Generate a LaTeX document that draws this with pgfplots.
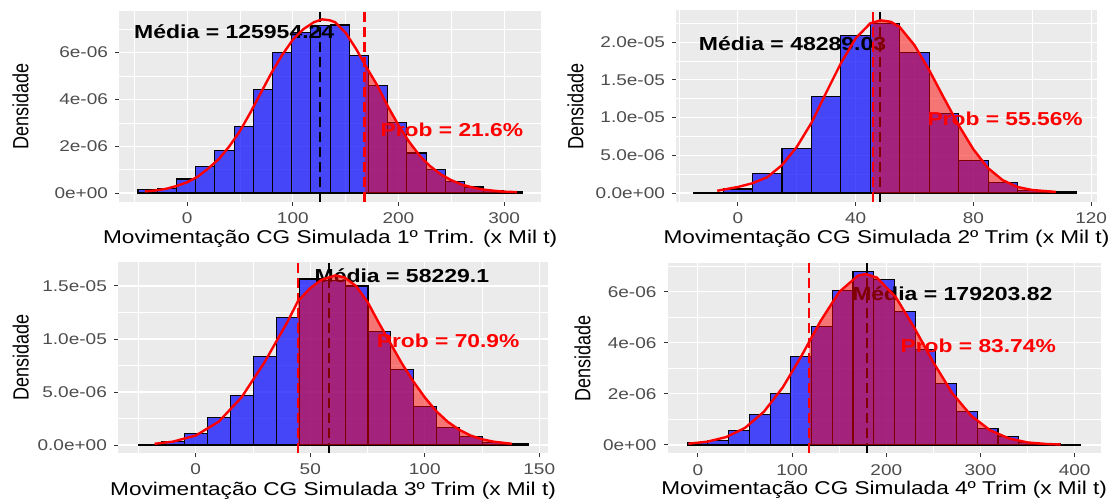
\documentclass[border=0pt]{standalone}
\usepackage{fontspec}
\setmainfont{Liberation Sans}
\usepackage{graphicx}
\usepackage{pgfplots}
\pgfplotsset{compat=1.18}
\definecolor{ggbg}{HTML}{EBEBEB}
\definecolor{ggtxt}{HTML}{4D4D4D}
\definecolor{ggtick}{HTML}{333333}
% ggplot output is squashed vertically, so squash the text too
\newcommand{\sq}[1]{\scalebox{1}[0.82]{#1}}
\pgfplotsset{
  gg/.style={
    scale only axis, anchor=south west,
    axis background/.style={fill=ggbg},
    axis line style={draw=none},
    grid=both,
    major grid style={white, line width=0.55pt},
    minor grid style={white, line width=0.3pt},
    tick align=outside, tick pos=left,
    major tick length=2pt, minor tick length=0pt,
    tick style={ggtick, line width=0.5pt},
    ticklabel style={font=\fontsize{9.5}{11}\selectfont, text=ggtxt},
    xlabel style={font=\fontsize{11.3}{13}\selectfont, anchor=base},
    ylabel style={font=\fontsize{11}{13}\selectfont, anchor=center},
  },
  hist/.style={ybar, bar shift=0pt, fill=blue, fill opacity=0.7, draw=black, line width=0.55pt},
  area/.style={fill=red, fill opacity=0.5, draw=none, mark=none},
  dens/.style={red, line width=1.2pt, mark=none},
  vl/.style={line width=1.1pt, dash pattern=on 5pt off 2.5pt, mark=none},
}
\tikzset{
  media/.style={font=\bfseries\fontsize{11.5}{13}\selectfont, text=black},
  prob/.style={font=\bfseries\fontsize{11.4}{13}\selectfont, text=red},
}
\begin{document}
\begin{tikzpicture}
\useasboundingbox (0,0) rectangle (554.5pt,249.5pt);

% ---------- 1st quarter
\begin{axis}[gg, at={(59.5pt,148.65pt)}, width=211.2pt, height=95.5pt,
  xmin=-64.5, xmax=335.3, ymin=-0.37, ymax=7.79,
  xtick={0,100,200,300}, xticklabels={\sq{0},\sq{100},\sq{200},\sq{300}},
  minor xtick={-50,50,150,250},
  ytick={0,2,4,6}, yticklabels={\sq{0e+00},\sq{2e-06},\sq{4e-06},\sq{6e-06}},
  minor ytick={1,3,5,7},
  xlabel={\sq{Movimentação CG Simulada 1º Trim. (x Mil t)}},
  ylabel={\scalebox{0.82}[1]{Densidade}},
  xlabel style={at={(axis description cs:0.5,-0.218)}},
  ylabel style={at={(axis description cs:-0.233,0.5)}},
]
\addplot[hist, bar width=18.18] coordinates {
(-37.41,0.14)(-19.23,0.18)(-1.05,0.6)(17.13,1.14)(35.31,1.8)(53.49,2.84)(71.67,4.41)
(89.85,6.01)(108.03,6.85)(126.21,7.14)(144.39,7.18)(162.57,5.86)(180.75,4.59)(198.93,3.01)
(217.11,1.71)(235.29,1.0)(253.47,0.5)(271.65,0.26)(289.83,0.11)(308.01,0.08)};
\node[media] at (axis cs:44.6,6.89) {\sq{Média = 125954.24}};
\node[prob] at (axis cs:250.6,2.70) {\sq{Prob = 21.6\%}};
\addplot[vl, black] coordinates {(125.95,-0.37)(125.95,7.79)};
\addplot[vl, red] coordinates {(167.9,-0.37)(167.9,7.79)};
\addplot[area] coordinates {
(167.9,0)(167.9,5.52)(170,5.35)(180,4.6)(190,3.7)(200,2.9)(210,2.2)(220,1.6)(230,1.15)
(240,0.8)(250,0.55)(260,0.36)(270,0.24)(280,0.15)(290,0.1)(300,0.06)(312,0.04)(312,0)};
\addplot[dens] coordinates {
(-40,0.07)(-30,0.11)(-20,0.18)(-10,0.3)(0,0.46)(10,0.7)(20,1.05)(30,1.45)(40,2.0)
(50,2.65)(60,3.45)(70,4.3)(80,5.15)(90,5.9)(100,6.55)(110,7.0)(120,7.3)(128,7.42)
(135,7.38)(140,7.3)(150,6.85)(160,6.15)(167.9,5.52)(170,5.35)(180,4.6)(190,3.7)(200,2.9)
(210,2.2)(220,1.6)(230,1.15)(240,0.8)(250,0.55)(260,0.36)(270,0.24)(280,0.15)(290,0.1)
(300,0.06)(312,0.04)};
\end{axis}

% ---------- 2nd quarter
\begin{axis}[gg, at={(338pt,148.65pt)}, width=210.5pt, height=95.6pt,
  xmin=-21, xmax=122, ymin=-1.15, ymax=24.2,
  xtick={0,40,80,120}, xticklabels={\sq{0},\sq{40},\sq{80},\sq{120}},
  minor xtick={-20,20,60,100},
  ytick={0,5,10,15,20},
  yticklabels={\sq{0.0e+00},\sq{5.0e-06},\sq{1.0e-05},\sq{1.5e-05},\sq{2.0e-05}},
  minor ytick={2.5,7.5,12.5,17.5,22.5},
  xlabel={\sq{Movimentação CG Simulada 2º Trim (x Mil t)}},
  ylabel={\scalebox{0.82}[1]{Densidade}},
  xlabel style={at={(axis description cs:0.5,-0.218)}},
  ylabel style={at={(axis description cs:-0.239,0.5)}},
]
\addplot[hist, bar width=10] coordinates {
(-10,0.1)(0,0.53)(10,2.64)(20,5.85)(30,12.8)(40,20.9)(50,22.5)(60,18.6)(70,10.55)
(80,4.26)(90,1.4)(100,0.35)(110,0.13)};
\node[media] at (axis cs:18.6,19.8) {\sq{Média = 48289.03}};
\node[prob] at (axis cs:90.8,9.9) {\sq{Prob = 55.56\%}};
\addplot[vl, black] coordinates {(48.29,-1.15)(48.29,24.2)};
\addplot[vl, red] coordinates {(45.8,-1.15)(45.8,24.2)};
\addplot[area] coordinates {
(45.8,0)(45.8,22.6)(48.5,22.9)(52,22.7)(55,22.0)(60,19.6)(65,16.3)(70,12.6)(75,9.0)
(80,5.8)(85,3.3)(90,1.7)(95,0.8)(100,0.4)(108,0.15)(108,0)};
\addplot[dens] coordinates {
(-7,0.3)(0,0.8)(5,1.3)(10,2.1)(15,3.7)(20,6.1)(25,9.3)(30,13.3)(35,17.2)(40,20.5)
(45,22.5)(48.5,22.9)(52,22.7)(55,22.0)(60,19.6)(65,16.3)(70,12.6)(75,9.0)(80,5.8)
(85,3.3)(90,1.7)(95,0.8)(100,0.4)(108,0.15)};
\end{axis}

% ---------- 3rd quarter
\begin{axis}[gg, at={(58.95pt,23pt)}, width=215.15pt, height=95.65pt,
  xmin=-34, xmax=153.9, ymin=-0.75, ymax=17.29,
  xtick={0,50,100,150}, xticklabels={\sq{0},\sq{50},\sq{100},\sq{150}},
  minor xtick={-25,25,75,125},
  ytick={0,5,10,15},
  yticklabels={\sq{0.0e+00},\sq{5.0e-06},\sq{1.0e-05},\sq{1.5e-05}},
  minor ytick={2.5,7.5,12.5},
  xlabel={\sq{Movimentação CG Simulada 3º Trim (x Mil t)}},
  ylabel={\scalebox{0.82}[1]{Densidade}},
  xlabel style={at={(axis description cs:0.5,-0.22)}},
  ylabel style={at={(axis description cs:-0.226,0.5)}},
]
\addplot[hist, bar width=10] coordinates {
(-19.8,0.05)(-9.8,0.3)(0.2,1.1)(10.2,2.58)(20.2,4.69)(30.2,8.33)(40.2,12.0)(50.2,15.66)
(60.2,15.5)(70.2,15.0)(80.2,10.7)(90.2,7.14)(100.2,3.62)(110.2,1.67)(120.2,0.79)
(130.2,0.25)(140.2,0.12)};
\node[media] at (axis cs:90.0,15.94) {\sq{Média = 58229.1}};
\node[prob] at (axis cs:110.2,9.84) {\sq{Prob = 70.9\%}};
\addplot[vl, black] coordinates {(58.23,-0.75)(58.23,17.29)};
\addplot[vl, red] coordinates {(44.7,-0.75)(44.7,17.29)};
\addplot[area] coordinates {
(44.7,0)(44.7,13.6)(50,14.8)(55,15.6)(61,16.0)(65,15.8)(70,15.0)(75,13.5)(80,11.5)
(85,9.6)(90,7.7)(95,6.0)(100,4.5)(105,3.2)(110,2.2)(115,1.45)(120,0.9)(125,0.55)
(130,0.32)(138,0.12)(138,0)};
\addplot[dens] coordinates {
(-18,0.12)(-10,0.32)(0,0.9)(10,2.2)(20,4.5)(30,7.8)(40,11.6)(44.7,13.6)(50,14.8)
(55,15.6)(61,16.0)(65,15.8)(70,15.0)(75,13.5)(80,11.5)(85,9.6)(90,7.7)(95,6.0)
(100,4.5)(105,3.2)(110,2.2)(115,1.45)(120,0.9)(125,0.55)(130,0.32)(138,0.12)};
\end{axis}

% ---------- 4th quarter
\begin{axis}[gg, at={(333.75pt,22.85pt)}, width=216.6pt, height=95pt,
  xmin=-32.3, xmax=427.6, ymin=-0.325, ymax=7.11,
  xtick={0,100,200,300,400}, xticklabels={\sq{0},\sq{100},\sq{200},\sq{300},\sq{400}},
  minor xtick={50,150,250,350},
  ytick={0,2,4,6}, yticklabels={\sq{0e+00},\sq{2e-06},\sq{4e-06},\sq{6e-06}},
  minor ytick={1,3,5,7},
  xlabel={\sq{Movimentação CG Simulada 4º Trim (x Mil t)}},
  ylabel={\scalebox{0.82}[1]{Densidade}},
  xlabel style={at={(axis description cs:0.5,-0.219)}},
  ylabel style={at={(axis description cs:-0.196,0.5)}},
]
\addplot[hist, bar width=22] coordinates {
(-0.4,0.1)(21.6,0.17)(43.6,0.55)(65.6,1.2)(87.6,2.0)(109.6,3.48)(131.6,4.63)(153.6,6.04)
(175.6,6.78)(197.6,6.48)(219.6,5.24)(241.6,3.72)(263.6,2.41)(285.6,1.3)(307.6,0.65)
(329.6,0.33)(351.6,0.1)(373.6,0.05)(395.6,0.03)};
\node[media] at (axis cs:270.1,5.94) {\sq{Média = 179203.82}};
\node[prob] at (axis cs:297.6,3.87) {\sq{Prob = 83.74\%}};
\addplot[vl, black] coordinates {(179.2,-0.325)(179.2,7.11)};
\addplot[vl, red] coordinates {(118.3,-0.325)(118.3,7.11)};
\addplot[area] coordinates {
(118.3,0)(118.3,4.05)(130,4.84)(150,5.99)(170,6.63)(178,6.69)(190,6.55)(210,5.79)
(230,4.57)(250,3.23)(270,2.03)(290,1.15)(310,0.58)(330,0.26)(350,0.1)(370,0.04)
(385,0.02)(385,0)};
\addplot[dens] coordinates {
(-10,0.05)(10,0.13)(30,0.31)(50,0.67)(70,1.3)(90,2.25)(110,3.49)(118.3,4.05)(130,4.84)
(150,5.99)(170,6.63)(178,6.69)(190,6.55)(210,5.79)(230,4.57)(250,3.23)(270,2.03)
(290,1.15)(310,0.58)(330,0.26)(350,0.1)(370,0.04)(385,0.02)};
\end{axis}
\end{tikzpicture}
\end{document}
